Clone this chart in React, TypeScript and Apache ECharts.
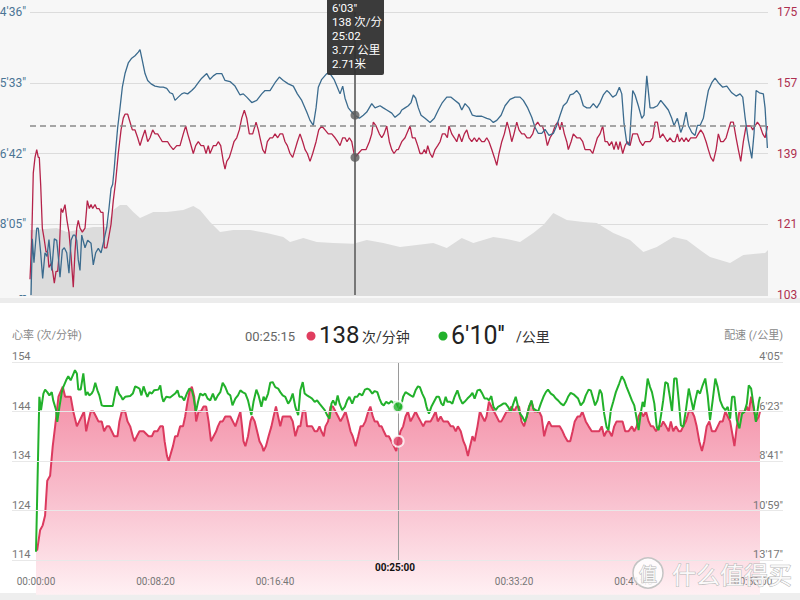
import React, { useEffect, useRef } from 'react';
import * as echarts from 'echarts';

// ================= TOP CHART (distance in metres) =================
const topPaceTickLabels = ["4'36\"", "5'33\"", "6'42\"", "8'05\"", '--'];
const topPaceBase = 276; // 4'36"
const topPaceRatio = 1.2066; // log-spaced pace ticks
const topHrTickLabels = ['175', '157', '139', '121', '103'];
const topHrMin = 103;
const topHrMax = 175;
const topAvgHr = 146;
const topTotalM = 8560;
const topCursorM = 3770;
const topCursorPace = 363;
const topCursorHr = 138;
const topTooltipLines = ["6'03\"", '138 次/分', '25:02', '3.77 公里', '2.71米'];

// [metres, pace seconds per km]
const topPace: [number, number][] = [
  [12,585],[27,504],[46,537],[78,490],[96,490],[124,523],[147,560],[174,523],[197,528],[220,505],[252,548],[282,504],[310,506],[328,528],[348,558],[375,519],[398,516],[426,523],[452,552],[476,506],[502,499],[522,499],[542,506],[560,533],[580,548],[600,499],[638,516],[669,506],[708,510],[734,540],[762,523],[792,517],[824,523],[850,510],[870,499],[890,489],[916,465],[940,441],[959,436],[978,417],[994,398],[1017,375],[1044,356],[1071,337],[1102,325],[1140,316],[1180,312],[1218,310],[1256,307],[1276,305],[1303,314],[1334,325],[1365,331],[1404,334],[1450,336],[1508,337],[1546,337],[1586,338],[1624,342],[1655,343],[1682,349],[1720,346],[1760,343],[1790,342],[1829,343],[1876,340],[1914,337],[1952,333],[1992,329],[2050,325],[2088,330],[2126,327],[2166,325],[2224,325],[2262,331],[2320,332],[2378,336],[2436,344],[2474,343],[2514,346],[2572,351],[2630,349],[2688,343],[2726,340],[2784,340],[2842,333],[2892,328],[2938,331],[2996,334],[3054,336],[3101,343],[3152,349],[3210,360],[3248,368],[3286,373],[3318,356],[3344,337],[3384,330],[3442,325],[3480,325],[3526,330],[3565,337],[3596,343],[3627,336],[3654,347],[3692,356],[3732,360],[3770,363],[3820,366],[3866,363],[3906,360],[3964,352],[4002,356],[4060,354],[4098,356],[4138,358],[4196,361],[4234,365],[4292,361],[4312,358],[4350,356],[4388,354],[4420,351],[4446,344],[4474,347],[4504,356],[4536,363],[4582,366],[4640,370],[4690,366],[4736,358],[4783,351],[4834,346],[4884,346],[4930,349],[4976,352],[5008,358],[5046,352],[5092,356],[5131,363],[5182,364],[5240,364],[5298,366],[5336,367],[5374,370],[5414,368],[5464,363],[5510,354],[5568,348],[5626,346],[5684,346],[5722,349],[5773,356],[5820,365],[5858,375],[5896,381],[5936,381],[5974,377],[6020,383],[6070,381],[6110,373],[6148,363],[6186,354],[6226,351],[6264,344],[6302,343],[6342,340],[6380,344],[6418,354],[6458,356],[6496,356],[6534,352],[6574,356],[6612,351],[6650,344],[6690,340],[6720,342],[6759,346],[6798,344],[6836,337],[6864,343],[6890,371],[6922,391],[6952,393],[6991,340],[7018,344],[7056,354],[7096,366],[7122,363],[7154,327],[7192,356],[7230,356],[7277,354],[7316,349],[7366,354],[7404,358],[7444,366],[7470,373],[7509,366],[7548,380],[7578,373],[7610,360],[7636,373],[7676,380],[7714,383],[7741,373],[7772,373],[7810,366],[7842,351],[7868,340],[7908,333],[7946,329],[7984,333],[8035,337],[8082,336],[8140,342],[8190,345],[8236,343],[8267,346],[8294,365],[8332,388],[8372,407],[8398,381],[8422,340],[8460,342],[8506,343],[8526,356],[8553,396]
];

// [metres, heart rate bpm]
const topHr: [number, number][] = [
  [0,107],[20,117],[38,134],[58,138],[78,140],[96,138],[108,138],[124,131],[143,120],[166,117],[186,114],[205,114],[220,110],[244,111],[263,109],[282,106],[302,109],[321,109],[340,114],[360,125],[379,124],[406,126],[429,122],[452,119],[476,113],[502,105],[522,114],[542,120],[560,122],[580,120],[607,119],[638,120],[665,127],[688,125],[708,126],[727,125],[754,126],[774,125],[800,125],[824,124],[847,124],[862,115],[890,115],[908,117],[940,121],[966,127],[994,132],[1024,139],[1056,145],[1082,148],[1102,149],[1133,149],[1160,147],[1187,145],[1218,145],[1249,143],[1276,141],[1303,143],[1334,145],[1365,142],[1392,143],[1423,145],[1450,144],[1481,144],[1508,143],[1535,142],[1566,142],[1597,142],[1624,141],[1662,140],[1702,141],[1740,141],[1778,144],[1806,146],[1829,144],[1856,142],[1894,139],[1922,141],[1952,142],[1984,141],[2015,141],[2042,139],[2068,141],[2088,139],[2126,141],[2158,141],[2184,142],[2212,141],[2242,137],[2262,135],[2282,137],[2312,138],[2340,140],[2366,142],[2398,143],[2428,145],[2456,148],[2486,150],[2514,148],[2544,144],[2583,144],[2622,147],[2648,145],[2668,143],[2699,140],[2726,139],[2753,142],[2784,143],[2815,143],[2842,144],[2873,143],[2900,144],[2931,144],[2958,142],[2985,141],[3016,139],[3047,138],[3074,140],[3101,142],[3132,144],[3163,142],[3190,140],[3217,139],[3248,137],[3279,139],[3318,142],[3349,145],[3384,146],[3422,145],[3460,144],[3500,144],[3538,143],[3569,142],[3596,141],[3627,143],[3654,143],[3677,142],[3704,143],[3732,142],[3758,139],[3770,138],[3808,139],[3848,140],[3874,140],[3898,140],[3936,142],[3964,144],[3982,147],[4014,146],[4052,144],[4080,143],[4106,144],[4138,146],[4168,142],[4196,140],[4222,139],[4254,140],[4272,140],[4312,142],[4350,143],[4388,145],[4408,146],[4435,143],[4466,143],[4497,141],[4524,139],[4551,139],[4574,140],[4594,139],[4613,141],[4640,139],[4667,138],[4698,140],[4729,141],[4756,142],[4783,144],[4814,144],[4841,143],[4860,146],[4892,144],[4922,143],[4950,142],[4976,144],[5008,142],[5038,144],[5066,145],[5092,143],[5124,142],[5154,143],[5182,142],[5208,143],[5240,142],[5270,142],[5298,143],[5324,142],[5356,140],[5386,138],[5414,136],[5440,139],[5472,142],[5502,144],[5533,147],[5560,145],[5588,142],[5614,144],[5646,147],[5672,145],[5704,144],[5734,144],[5765,143],[5800,143],[5831,144],[5858,146],[5889,147],[5916,146],[5943,146],[5974,144],[6001,141],[6032,143],[6059,144],[6090,146],[6121,147],[6148,145],[6168,147],[6198,144],[6226,142],[6244,140],[6276,142],[6302,144],[6342,143],[6380,143],[6411,142],[6438,140],[6465,140],[6496,140],[6527,139],[6554,141],[6581,143],[6612,144],[6643,146],[6670,142],[6697,142],[6720,141],[6748,142],[6774,140],[6798,142],[6824,140],[6844,142],[6875,139],[6902,141],[6929,142],[6960,141],[6991,144],[7018,144],[7045,144],[7076,142],[7107,141],[7134,142],[7161,142],[7192,142],[7223,143],[7250,147],[7277,147],[7308,143],[7339,144],[7366,143],[7393,142],[7424,143],[7455,142],[7482,142],[7509,144],[7532,142],[7560,143],[7586,142],[7610,143],[7636,142],[7664,143],[7694,143],[7726,143],[7752,144],[7780,145],[7810,144],[7842,142],[7868,140],[7896,138],[7926,137],[7958,140],[7984,144],[8012,142],[8042,142],[8074,143],[8100,145],[8128,147],[8158,147],[8190,143],[8216,140],[8244,137],[8274,142],[8306,146],[8332,146],[8360,146],[8383,145],[8410,146],[8437,147],[8468,146],[8499,144],[8526,143],[8546,145],[8553,146]
];

// [metres, elevation m]
const topEle: [number, number][] = [
  [0,3.44],[20,3.44],[310,3.55],[426,3.34],[731,3.6],[890,3.6],[966,4.5],[1044,4.77],[1122,4.77],[1198,4.4],[1276,4.08],[1430,4.4],[1586,4.4],[1778,4.5],[1894,4.72],[1972,4.5],[2088,3.87],[2204,3.34],[2358,3.44],[2552,3.44],[2746,3.29],[2938,3.07],[3016,2.81],[3170,3.02],[3326,2.81],[3518,2.76],[3750,2.71],[3906,2.91],[4098,2.76],[4292,2.54],[4486,2.65],[4678,2.76],[4834,2.49],[5008,3.02],[5142,2.76],[5374,3.07],[5530,2.97],[5684,2.81],[5838,3.29],[5954,3.71],[6070,4.35],[6226,3.97],[6418,3.87],[6574,3.82],[6766,3.29],[6960,2.91],[7114,2.28],[7270,2.54],[7462,3.07],[7618,2.91],[7772,2.38],[7888,2.01],[8120,1.7],[8274,2.12],[8390,2.17],[8526,2.23],[8560,2.38]
];
const topEleMax = 15;

// ================= BOTTOM CHART (time in seconds) =================
const bottomHrTickLabels = ['154', '144', '134', '124', '114'];
const bottomPaceTickLabels = ["4'05''", "6'23''", "8'41''", "10'59''", "13'17''"];
const bottomHrTop = 154;
const bottomHrBottom = 114;
const bottomPaceTop = 245;
const bottomPaceBottom = 797;
const bottomTimeMax = 3029;
const bottomTimeStep = 500;
const cursorT = 1515;
const cursorHr = 138;
const cursorPace = 370;
const headerTime = '00:25:15';
const headerHr = '138';
const headerPace = "6'10''";
const pointerTimeLabel = '00:25:00';

// [seconds, pace s/km]
const bottomPace: [number, number][] = [
  [0,774],[14,342],[21,379],[31,333],[38,322],[47,329],[56,338],[66,329],[72,352],[84,379],[89,412],[98,370],[108,329],[114,315],[126,296],[135,285],[145,296],[154,282],[163,268],[171,277],[177,322],[187,322],[198,277],[208,338],[215,329],[223,338],[233,333],[240,324],[248,303],[257,324],[265,338],[275,366],[285,368],[310,368],[321,368],[331,333],[338,313],[347,333],[355,340],[363,350],[373,342],[394,340],[405,333],[415,313],[424,316],[433,319],[441,338],[450,313],[458,329],[466,342],[475,329],[485,333],[494,324],[512,322],[520,310],[527,342],[533,356],[545,342],[561,344],[582,333],[592,324],[600,342],[610,342],[620,352],[631,333],[642,319],[652,324],[659,342],[669,384],[678,356],[687,333],[698,338],[708,333],[718,347],[729,352],[740,333],[750,352],[761,338],[771,329],[781,303],[792,315],[803,333],[813,338],[822,366],[834,347],[845,338],[855,324],[864,329],[876,333],[887,352],[901,393],[910,356],[922,322],[931,338],[943,370],[952,342],[960,352],[971,333],[980,303],[990,301],[1001,315],[1013,319],[1022,329],[1032,338],[1043,342],[1055,361],[1064,352],[1074,333],[1085,370],[1097,393],[1106,324],[1116,301],[1124,333],[1134,338],[1144,342],[1155,347],[1166,356],[1176,352],[1186,361],[1197,370],[1208,379],[1218,393],[1228,403],[1236,361],[1243,352],[1253,366],[1262,338],[1270,361],[1281,379],[1292,370],[1302,352],[1311,342],[1323,361],[1334,342],[1344,342],[1353,333],[1365,338],[1376,322],[1386,319],[1395,322],[1407,333],[1417,326],[1428,329],[1437,347],[1446,361],[1455,366],[1465,356],[1476,361],[1487,354],[1497,361],[1504,356],[1515,370],[1525,375],[1536,342],[1546,329],[1556,333],[1567,338],[1578,342],[1588,324],[1598,313],[1606,315],[1616,333],[1626,347],[1634,370],[1644,389],[1654,370],[1665,356],[1676,342],[1686,342],[1696,361],[1704,366],[1714,342],[1721,356],[1732,356],[1742,361],[1751,342],[1763,324],[1774,347],[1784,361],[1793,356],[1805,347],[1816,340],[1826,331],[1835,347],[1847,324],[1857,322],[1867,333],[1877,347],[1888,347],[1895,352],[1905,340],[1914,370],[1923,379],[1933,370],[1944,366],[1955,361],[1965,361],[1975,370],[1986,384],[1997,361],[2007,342],[2017,370],[2025,389],[2035,398],[2045,412],[2053,398],[2063,370],[2073,352],[2081,375],[2091,379],[2100,384],[2112,361],[2123,342],[2133,329],[2142,322],[2154,333],[2165,338],[2175,347],[2184,352],[2196,361],[2207,366],[2217,356],[2226,342],[2237,331],[2249,335],[2268,347],[2279,366],[2291,356],[2300,338],[2312,322],[2321,324],[2331,347],[2339,366],[2349,352],[2359,322],[2367,333],[2377,389],[2387,426],[2395,435],[2405,379],[2415,356],[2426,329],[2440,305],[2451,285],[2461,296],[2471,315],[2482,333],[2493,352],[2503,366],[2513,403],[2521,435],[2531,384],[2538,356],[2545,370],[2552,333],[2559,291],[2569,315],[2577,329],[2587,361],[2597,426],[2605,435],[2615,393],[2624,352],[2633,301],[2643,305],[2652,342],[2661,384],[2670,291],[2680,291],[2689,352],[2698,421],[2708,426],[2719,379],[2731,319],[2740,347],[2750,379],[2758,352],[2768,324],[2778,333],[2789,310],[2800,291],[2810,338],[2820,407],[2831,352],[2842,291],[2852,315],[2862,352],[2873,370],[2884,379],[2894,370],[2904,403],[2912,342],[2922,342],[2932,407],[2943,430],[2954,389],[2964,384],[2974,361],[2982,310],[2992,319],[3001,361],[3012,412],[3024,356],[3029,342]
];

// [seconds, heart rate bpm]
const bottomHr: [number, number][] = [
  [0,116],[5,116],[17,120],[28,121],[38,123],[47,130],[59,131],[70,137],[80,141],[87,144],[94,147],[103,148],[112,149],[122,147],[135,147],[145,147],[156,144],[171,141],[181,142],[191,143],[201,144],[210,140],[219,142],[229,144],[240,144],[251,143],[261,142],[275,142],[285,140],[296,141],[307,141],[317,140],[327,139],[341,139],[349,142],[359,144],[373,144],[383,142],[394,141],[405,139],[412,138],[422,139],[433,140],[450,140],[471,139],[485,139],[494,140],[508,140],[520,141],[531,141],[538,138],[548,135],[555,134],[561,135],[573,137],[582,139],[592,139],[603,141],[615,141],[624,143],[634,146],[642,148],[652,149],[662,147],[670,142],[680,144],[690,144],[701,145],[712,145],[722,142],[732,138],[743,139],[754,140],[761,141],[771,142],[781,142],[792,143],[803,143],[813,143],[834,141],[855,144],[862,141],[868,138],[876,137],[887,139],[897,142],[904,143],[915,142],[925,140],[935,138],[946,137],[952,136],[962,137],[973,139],[985,141],[994,143],[1004,145],[1013,143],[1022,141],[1032,143],[1043,143],[1064,143],[1074,142],[1085,139],[1097,141],[1106,141],[1116,144],[1127,144],[1134,141],[1144,141],[1155,141],[1166,140],[1176,140],[1186,141],[1194,140],[1204,139],[1211,141],[1222,142],[1232,145],[1242,145],[1253,144],[1264,143],[1274,142],[1285,143],[1295,144],[1306,142],[1316,140],[1325,139],[1337,137],[1348,139],[1358,141],[1367,141],[1378,142],[1390,144],[1399,145],[1409,143],[1417,142],[1428,142],[1437,141],[1446,141],[1455,140],[1465,139],[1476,139],[1497,137],[1507,136],[1515,138],[1525,140],[1536,141],[1546,143],[1556,144],[1567,142],[1578,143],[1588,144],[1598,143],[1609,142],[1620,141],[1630,142],[1640,142],[1651,142],[1662,143],[1672,144],[1681,142],[1693,143],[1704,142],[1714,142],[1723,142],[1735,141],[1746,141],[1756,140],[1765,141],[1777,140],[1788,138],[1797,137],[1807,135],[1816,137],[1826,139],[1835,138],[1847,141],[1857,144],[1867,143],[1877,142],[1885,143],[1895,146],[1905,145],[1916,144],[1927,143],[1937,142],[1947,142],[1958,143],[1969,144],[1979,144],[1989,145],[2000,144],[2011,145],[2021,145],[2031,142],[2042,141],[2053,143],[2063,145],[2073,146],[2084,144],[2095,144],[2105,144],[2115,143],[2126,139],[2137,141],[2146,142],[2157,141],[2168,141],[2182,141],[2191,141],[2203,140],[2212,139],[2224,138],[2235,138],[2245,140],[2254,142],[2266,143],[2276,143],[2286,144],[2300,142],[2312,141],[2325,140],[2342,140],[2356,140],[2367,141],[2377,139],[2387,140],[2398,140],[2409,139],[2419,141],[2429,142],[2443,142],[2454,142],[2465,140],[2479,140],[2493,141],[2503,140],[2513,141],[2521,143],[2531,144],[2540,143],[2552,144],[2563,142],[2573,141],[2582,141],[2594,140],[2605,141],[2615,141],[2624,142],[2636,141],[2647,140],[2656,142],[2666,140],[2677,141],[2689,140],[2698,140],[2708,141],[2719,142],[2731,144],[2744,144],[2754,143],[2764,141],[2775,138],[2786,136],[2796,138],[2806,141],[2817,142],[2828,140],[2842,140],[2852,141],[2862,142],[2873,142],[2884,144],[2894,143],[2904,142],[2915,139],[2922,137],[2932,141],[2943,144],[2954,144],[2964,144],[2974,145],[2982,144],[2992,147],[3001,145],[3012,142],[3024,143],[3029,144]
];

// ================= helpers =================
const FONT = 'Roboto, "Noto Sans CJK SC", sans-serif';
const paceStep = (s: number) => Math.log(s / topPaceBase) / Math.log(topPaceRatio);
const pad2 = (n: number) => String(n).padStart(2, '0');
const fmtTime = (t: number) =>
  `${pad2(Math.floor(t / 3600))}:${pad2(Math.floor((t % 3600) / 60))}:${pad2(Math.round(t % 60))}`;

// layout
const BOT_TOP = 362;
const BOT_H = 198; // 154 -> 114
const BOT_AREA_H = 232.65; // area extends below the 114 line
const areaScale = BOT_AREA_H / BOT_H;

function buildOption() {
  const hrMinExt = bottomHrTop - (bottomHrTop - bottomHrBottom) * areaScale;
  const paceMaxExt = bottomPaceTop + (bottomPaceBottom - bottomPaceTop) * areaScale;
  const txt = (x: number, y: number, text: string, size: number, fill: string, align = 'left', weight = 'normal') => ({
    type: 'text',
    x,
    y,
    z: 50,
    silent: true,
    style: {
      text,
      fill,
      fontSize: size,
      fontFamily: FONT,
      fontWeight: weight,
      align,
      textAlign: align,
      verticalAlign: 'middle',
      textVerticalAlign: 'middle',
    },
  });
  const wm = (x: number, y: number, text: string, size: number, align: string) => ({
    type: 'text',
    x,
    y,
    z: 60,
    silent: true,
    style: {
      text,
      fill: 'rgba(255,255,255,0.9)',
      stroke: '#b8b8b8',
      lineWidth: 1,
      fontSize: size,
      fontFamily: '"Noto Sans CJK SC", sans-serif',
      align,
      textAlign: align,
      verticalAlign: 'middle',
      textVerticalAlign: 'middle',
    },
  });

  return {
    animation: false,
    backgroundColor: 'transparent',
    textStyle: { fontFamily: FONT },
    grid: [
      { left: 30, right: 32, top: 12, height: 283, containLabel: false, outerBoundsMode: 'none' },
      { left: 12, right: 17, top: BOT_TOP, height: BOT_H, containLabel: false, outerBoundsMode: 'none' },
      { left: 36, right: 40, top: BOT_TOP, height: BOT_AREA_H, containLabel: false, outerBoundsMode: 'none' },
    ],
    xAxis: [
      { gridIndex: 0, type: 'value', min: 0, max: topTotalM, show: false },
      { gridIndex: 1, type: 'value', min: 0, max: 1, show: false },
      {
        gridIndex: 2,
        type: 'value',
        z: 10,
        min: 0,
        max: bottomTimeMax,
        interval: bottomTimeStep,
        axisLine: { show: false },
        axisTick: { show: false },
        splitLine: { show: false },
        axisLabel: {
          inside: true,
          margin: 8,
          color: '#777',
          fontSize: 10,
          fontFamily: FONT,
          formatter: (v: number) => (v % bottomTimeStep === 0 && v !== 1500 ? fmtTime(v) : ''),
        },
      },
    ],
    yAxis: [
      {
        gridIndex: 0,
        type: 'value',
        min: 0,
        max: 4,
        interval: 1,
        inverse: true,
        position: 'left',
        axisLine: { show: false },
        axisTick: { show: false },
        axisLabel: {
          margin: 4,
          color: '#4b7595',
          fontSize: 12,
          fontFamily: FONT,
          formatter: (v: number) => topPaceTickLabels[v] ?? '',
        },
        splitLine: { show: true, lineStyle: { color: '#dcdcdc', width: 1 } },
      },
      {
        gridIndex: 0,
        type: 'value',
        min: 0,
        max: 4,
        interval: 1,
        inverse: true,
        position: 'right',
        axisLine: { show: false },
        axisTick: { show: false },
        axisLabel: {
          margin: 9,
          color: '#ae2f50',
          fontSize: 12,
          fontFamily: FONT,
          formatter: (v: number) => topHrTickLabels[v] ?? '',
        },
        splitLine: { show: false },
      },
      { gridIndex: 0, type: 'value', min: topHrMin, max: topHrMax, show: false, position: 'right' },
      { gridIndex: 0, type: 'value', min: 0, max: topEleMax, show: false, position: 'right' },
      {
        gridIndex: 1,
        type: 'value',
        z: 10,
        min: 0,
        max: 4,
        interval: 1,
        inverse: true,
        position: 'left',
        axisLine: { show: false },
        axisTick: { show: false },
        axisLabel: {
          inside: true,
          margin: 0,
          align: 'left',
          verticalAlign: 'bottom',
          color: '#777',
          fontSize: 11,
          fontFamily: FONT,
          formatter: (v: number) => bottomHrTickLabels[v] ?? '',
        },
        splitLine: { show: true, lineStyle: { color: '#e8e8e8', width: 1 } },
      },
      {
        gridIndex: 1,
        type: 'value',
        z: 10,
        min: 0,
        max: 4,
        interval: 1,
        inverse: true,
        position: 'right',
        axisLine: { show: false },
        axisTick: { show: false },
        axisLabel: {
          inside: true,
          margin: 0,
          align: 'right',
          verticalAlign: 'bottom',
          color: '#777',
          fontSize: 11,
          fontFamily: FONT,
          formatter: (v: number) => bottomPaceTickLabels[v] ?? '',
        },
        splitLine: { show: false },
      },
      { gridIndex: 2, type: 'value', min: hrMinExt, max: bottomHrTop, show: false, position: 'left' },
      { gridIndex: 2, type: 'value', min: bottomPaceTop, max: paceMaxExt, inverse: true, show: false, position: 'right' },
    ],
    series: [
      {
        name: 'elevation',
        type: 'line',
        xAxisIndex: 0,
        yAxisIndex: 3,
        data: topEle,
        symbol: 'none',
        silent: true,
        lineStyle: { width: 0 },
        areaStyle: { color: '#dcdcdc', opacity: 1 },
        z: 1,
      },
      {
        name: 'hrTop',
        type: 'line',
        xAxisIndex: 0,
        yAxisIndex: 2,
        data: topHr,
        symbol: 'none',
        silent: true,
        lineStyle: { color: '#b5234a', width: 1.3 },
        z: 3,
        markLine: {
          silent: true,
          symbol: ['none', 'none'],
          label: { show: false },
          lineStyle: { color: '#8a8a8a', width: 1.6, type: [6, 4] },
          data: [{ yAxis: topAvgHr }],
        },
      },
      {
        name: 'paceTop',
        type: 'line',
        xAxisIndex: 0,
        yAxisIndex: 0,
        data: topPace.map(([m, s]) => [m, paceStep(s)]),
        symbol: 'none',
        silent: true,
        lineStyle: { color: '#3b6b8e', width: 1.3 },
        z: 4,
        markLine: {
          silent: true,
          symbol: ['none', 'none'],
          label: { show: false },
          lineStyle: { color: '#777', width: 2, type: 'solid' },
          data: [{ xAxis: topCursorM }],
        },
      },
      {
        type: 'scatter',
        xAxisIndex: 0,
        yAxisIndex: 0,
        data: [[topCursorM, paceStep(topCursorPace)]],
        symbolSize: 9,
        itemStyle: { color: '#5a5a5a' },
        silent: true,
        z: 6,
      },
      {
        type: 'scatter',
        xAxisIndex: 0,
        yAxisIndex: 2,
        data: [[topCursorM, topCursorHr]],
        symbolSize: 9,
        itemStyle: { color: '#5a5a5a' },
        silent: true,
        z: 6,
      },
      {
        name: 'hrBottom',
        type: 'line',
        xAxisIndex: 2,
        yAxisIndex: 6,
        data: bottomHr,
        symbol: 'none',
        silent: true,
        lineStyle: { color: '#dc3a5f', width: 2 },
        areaStyle: {
          opacity: 1,
          color: new echarts.graphic.LinearGradient(0, 0, 0, 1, [
            { offset: 0, color: '#f48ea6' },
            { offset: 0.5, color: '#f8bccb' },
            { offset: 1, color: '#fff0f3' },
          ]),
        },
        z: 3,
        markLine: {
          silent: true,
          symbol: ['none', 'none'],
          label: { show: false },
          lineStyle: { color: '#9a9a9a', width: 1, type: 'solid' },
          data: [[{ coord: [cursorT, bottomHrTop] }, { coord: [cursorT, bottomHrBottom] }]],
        },
      },
      {
        name: 'paceBottom',
        type: 'line',
        xAxisIndex: 2,
        yAxisIndex: 7,
        data: bottomPace,
        symbol: 'none',
        silent: true,
        lineStyle: { color: '#22b12b', width: 2 },
        z: 4,
      },
      {
        type: 'scatter',
        xAxisIndex: 2,
        yAxisIndex: 7,
        data: [[cursorT, cursorPace]],
        symbolSize: 11,
        itemStyle: { color: '#22b12b', borderColor: '#fff', borderWidth: 2 },
        silent: true,
        z: 6,
      },
      {
        type: 'scatter',
        xAxisIndex: 2,
        yAxisIndex: 6,
        data: [[cursorT, cursorHr]],
        symbolSize: 11,
        itemStyle: { color: '#dc3a5f', borderColor: '#fff', borderWidth: 2 },
        silent: true,
        z: 6,
      },
    ],
    graphic: [
      // tooltip box of the top chart
      {
        type: 'rect',
        z: 40,
        silent: true,
        shape: { x: 327, y: -4, width: 57, height: 79, r: 2 },
        style: { fill: 'rgba(48,48,48,0.95)' },
      },
      ...topTooltipLines.map((line, i) => ({
        type: 'text',
        x: 332,
        y: 8 + i * 14,
        z: 41,
        silent: true,
        style: {
          text: line,
          fill: '#fff',
          fontSize: 11.5,
          fontFamily: FONT,
          align: 'left',
          textAlign: 'left',
          verticalAlign: 'middle',
          textVerticalAlign: 'middle',
        },
      })),
      // bottom chart header
      txt(12, 335, '心率 (次/分钟)', 11, '#888'),
      txt(245, 336, headerTime, 13, '#666'),
      { type: 'circle', z: 50, silent: true, shape: { cx: 311, cy: 336, r: 4.5 }, style: { fill: '#e03d5f' } },
      txt(319, 335, headerHr, 24, '#222'),
      txt(362, 337, '次/分钟', 14, '#333'),
      { type: 'circle', z: 50, silent: true, shape: { cx: 443, cy: 336, r: 4.5 }, style: { fill: '#22b12b' } },
      txt(451, 335, headerPace, 25, '#222'),
      txt(516, 337, '/公里', 14, '#333'),
      txt(783, 335, '配速 (/公里)', 11, '#888', 'right'),
      txt(395, 567, pointerTimeLabel, 10, '#111', 'center', 'bold'),
      // watermark
      {
        type: 'circle',
        z: 59,
        silent: true,
        shape: { cx: 648, cy: 573, r: 15 },
        style: { fill: 'rgba(255,255,255,0.85)', stroke: '#c4c4c4', lineWidth: 1.5 },
      },
      wm(648, 573, '值', 18, 'center'),
      wm(672, 573, '什么值得买', 24, 'left'),
    ],
  };
}

export default function App() {
  const ref = useRef<HTMLDivElement>(null);
  useEffect(() => {
    if (!ref.current) return;
    const chart = echarts.init(ref.current, undefined, { renderer: 'svg' });
    chart.setOption(buildOption() as any);
    return () => chart.dispose();
  }, []);
  return (
    <div
      ref={ref}
      style={{
        position: 'absolute',
        left: 0,
        top: 0,
        width: 800,
        height: 600,
        background:
          'linear-gradient(to bottom, #f7f7f7 0px, #f7f7f7 298px, #ececec 298px, #ececec 303px, #ffffff 303px, #ffffff 593px, #eeeeee 593px)',
      }}
    />
  );
}
